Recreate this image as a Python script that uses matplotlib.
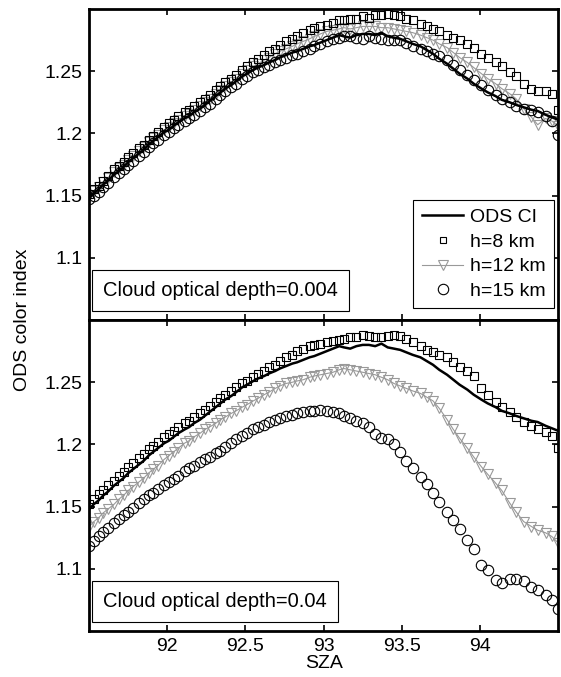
import matplotlib
matplotlib.use("Agg")
import matplotlib.pyplot as plt
from matplotlib.lines import Line2D

plt.rcParams['font.family'] = ['Liberation Sans', 'DejaVu Sans']
plt.rcParams['font.size'] = 14

# SZA sample positions
sza = [91.50, 91.53, 91.56, 91.59, 91.62, 91.66, 91.69, 91.72, 91.75, 91.78,
       91.82, 91.85, 91.88, 91.91, 91.94, 91.98, 92.01, 92.04, 92.07, 92.11,
       92.14, 92.17, 92.21, 92.24, 92.27, 92.31, 92.34, 92.37, 92.41, 92.44,
       92.48, 92.51, 92.55, 92.58, 92.62, 92.65, 92.69, 92.72, 92.76, 92.80,
       92.83, 92.87, 92.91, 92.94, 92.98, 93.02, 93.06, 93.10, 93.13, 93.17,
       93.21, 93.25, 93.29, 93.33, 93.37, 93.41, 93.45, 93.49, 93.53, 93.57,
       93.62, 93.66, 93.70, 93.74, 93.79, 93.83, 93.87, 93.92, 93.96, 94.01,
       94.05, 94.10, 94.14, 94.19, 94.23, 94.28, 94.33, 94.37, 94.42, 94.46,
       94.50]

# measured colour index (same in both panels)
ods_ci = [1.148, 1.152, 1.155, 1.159, 1.162, 1.167, 1.170, 1.173, 1.177, 1.180,
          1.184, 1.187, 1.191, 1.194, 1.197, 1.201, 1.203, 1.206, 1.209, 1.212,
          1.214, 1.217, 1.220, 1.223, 1.226, 1.230, 1.233, 1.236, 1.239, 1.242,
          1.246, 1.248, 1.251, 1.253, 1.255, 1.257, 1.259, 1.261, 1.263, 1.265,
          1.266, 1.268, 1.270, 1.271, 1.273, 1.275, 1.277, 1.279, 1.278, 1.277,
          1.279, 1.280, 1.280, 1.279, 1.281, 1.278, 1.277, 1.276, 1.274, 1.272,
          1.270, 1.267, 1.264, 1.260, 1.256, 1.252, 1.248, 1.244, 1.240, 1.236,
          1.233, 1.230, 1.227, 1.225, 1.223, 1.221, 1.219, 1.218, 1.215, 1.213,
          1.211]

# cloud optical depth 0.004
h8_thin = [1.151, 1.155, 1.158, 1.162, 1.166, 1.171, 1.174, 1.177, 1.181, 1.184,
           1.188, 1.191, 1.195, 1.198, 1.201, 1.205, 1.208, 1.211, 1.214, 1.217,
           1.219, 1.222, 1.225, 1.228, 1.231, 1.235, 1.238, 1.241, 1.244, 1.247,
           1.251, 1.254, 1.257, 1.260, 1.263, 1.266, 1.268, 1.271, 1.274, 1.276,
           1.278, 1.281, 1.283, 1.285, 1.286, 1.287, 1.289, 1.291, 1.291, 1.292,
           1.292, 1.294, 1.293, 1.295, 1.295, 1.296, 1.295, 1.294, 1.292, 1.291,
           1.288, 1.286, 1.284, 1.282, 1.279, 1.277, 1.275, 1.272, 1.269, 1.264,
           1.261, 1.257, 1.254, 1.249, 1.246, 1.240, 1.236, 1.234, 1.234, 1.232,
           1.219]
h12_thin = [1.150, 1.154, 1.157, 1.161, 1.164, 1.169, 1.172, 1.175, 1.179, 1.182,
            1.186, 1.189, 1.193, 1.196, 1.199, 1.203, 1.205, 1.208, 1.211, 1.214,
            1.216, 1.219, 1.222, 1.225, 1.228, 1.232, 1.235, 1.238, 1.241, 1.244,
            1.248, 1.251, 1.254, 1.256, 1.259, 1.261, 1.264, 1.266, 1.268, 1.270,
            1.272, 1.274, 1.276, 1.278, 1.280, 1.282, 1.283, 1.284, 1.285, 1.284,
            1.285, 1.286, 1.286, 1.286, 1.285, 1.285, 1.284, 1.283, 1.282, 1.281,
            1.279, 1.277, 1.275, 1.272, 1.269, 1.265, 1.261, 1.257, 1.253, 1.248,
            1.244, 1.240, 1.236, 1.232, 1.228, 1.220, 1.213, 1.207, 1.212, 1.210,
            1.206]
h15_thin = [1.147, 1.150, 1.153, 1.157, 1.160, 1.165, 1.168, 1.171, 1.175, 1.178,
            1.182, 1.185, 1.189, 1.192, 1.195, 1.199, 1.201, 1.204, 1.207, 1.210,
            1.212, 1.215, 1.218, 1.221, 1.224, 1.228, 1.231, 1.234, 1.237, 1.240,
            1.244, 1.246, 1.249, 1.251, 1.253, 1.255, 1.257, 1.259, 1.261, 1.263,
            1.264, 1.266, 1.268, 1.270, 1.272, 1.274, 1.276, 1.277, 1.278, 1.278,
            1.277, 1.276, 1.278, 1.277, 1.276, 1.275, 1.275, 1.275, 1.273, 1.270,
            1.268, 1.266, 1.264, 1.262, 1.259, 1.255, 1.251, 1.247, 1.243, 1.239,
            1.235, 1.231, 1.228, 1.225, 1.222, 1.220, 1.219, 1.217, 1.214, 1.210,
            1.199]

# cloud optical depth 0.04
h8_thick = [1.152, 1.156, 1.160, 1.163, 1.167, 1.171, 1.175, 1.178, 1.182, 1.185,
            1.189, 1.192, 1.196, 1.199, 1.202, 1.206, 1.208, 1.211, 1.214, 1.217,
            1.219, 1.222, 1.225, 1.228, 1.231, 1.234, 1.237, 1.240, 1.243, 1.246,
            1.249, 1.251, 1.254, 1.257, 1.259, 1.262, 1.264, 1.267, 1.270, 1.272,
            1.275, 1.277, 1.279, 1.280, 1.281, 1.282, 1.283, 1.284, 1.285, 1.286,
            1.286, 1.288, 1.287, 1.286, 1.286, 1.287, 1.288, 1.287, 1.285, 1.282,
            1.279, 1.276, 1.274, 1.272, 1.270, 1.266, 1.262, 1.259, 1.255, 1.245,
            1.240, 1.234, 1.230, 1.226, 1.222, 1.218, 1.215, 1.212, 1.210, 1.207,
            1.197]
h12_thick = [1.134, 1.138, 1.141, 1.145, 1.148, 1.152, 1.156, 1.159, 1.163, 1.166,
             1.170, 1.173, 1.177, 1.180, 1.183, 1.188, 1.191, 1.194, 1.197, 1.201,
             1.203, 1.206, 1.209, 1.212, 1.214, 1.217, 1.220, 1.222, 1.225, 1.227,
             1.230, 1.232, 1.235, 1.237, 1.240, 1.242, 1.245, 1.247, 1.249, 1.250,
             1.251, 1.252, 1.254, 1.255, 1.256, 1.257, 1.258, 1.260, 1.261, 1.260,
             1.259, 1.258, 1.257, 1.256, 1.254, 1.252, 1.249, 1.247, 1.245, 1.243,
             1.241, 1.238, 1.235, 1.229, 1.220, 1.212, 1.205, 1.197, 1.190, 1.182,
             1.176, 1.169, 1.163, 1.153, 1.146, 1.138, 1.134, 1.131, 1.129, 1.126,
             1.121]
h15_thick = [1.118, 1.122, 1.126, 1.130, 1.133, 1.137, 1.140, 1.143, 1.146, 1.149,
             1.153, 1.156, 1.159, 1.161, 1.164, 1.167, 1.170, 1.172, 1.175, 1.179,
             1.181, 1.183, 1.186, 1.188, 1.190, 1.193, 1.195, 1.198, 1.201, 1.204,
             1.207, 1.209, 1.212, 1.214, 1.216, 1.218, 1.220, 1.221, 1.223, 1.224,
             1.225, 1.226, 1.227, 1.227, 1.228, 1.227, 1.226, 1.225, 1.223, 1.221,
             1.219, 1.217, 1.214, 1.208, 1.205, 1.204, 1.200, 1.194, 1.187, 1.181,
             1.174, 1.168, 1.161, 1.154, 1.146, 1.139, 1.132, 1.123, 1.116, 1.103,
             1.099, 1.091, 1.089, 1.092, 1.092, 1.090, 1.085, 1.083, 1.079, 1.075,
             1.068]

panels = [
    (h8_thin, h12_thin, h15_thin, 'Cloud optical depth=0.004'),
    (h8_thick, h12_thick, h15_thick, 'Cloud optical depth=0.04'),
]

gray = '#999999'
fig = plt.figure(figsize=(5.61, 6.77), dpi=100)
ax_top = fig.add_axes([0.159, 0.5273, 0.8357, 0.4594])
ax_bot = fig.add_axes([0.159, 0.0679, 0.8357, 0.4594])

for ax, (h8, h12, h15, label) in zip([ax_top, ax_bot], panels):
    ax.plot(sza, h12, color=gray, lw=0.8, marker='v', ms=7.5,
            mfc='none', mec=gray, mew=0.8, zorder=2)
    ax.plot(sza, h8, ls='none', marker='s', ms=5.5, mfc='none',
            mec='black', mew=0.8, zorder=3)
    ax.plot(sza, h15, ls='none', marker='o', ms=7.5, mfc='none',
            mec='black', mew=0.8, zorder=3)
    ax.plot(sza, ods_ci, color='black', lw=1.8, zorder=4)

    ax.set_xlim(91.5, 94.5)
    ax.set_ylim(1.05, 1.30)
    ax.set_xticks([92, 92.5, 93, 93.5, 94])
    ax.set_xticklabels(['92', '92.5', '93', '93.5', '94'])
    ax.set_yticks([1.1, 1.15, 1.2, 1.25])
    ax.set_yticklabels(['1.1', '1.15', '1.2', '1.25'])
    ax.tick_params(direction='in', length=4, width=1.2, top=True, right=True,
                   labelsize=14, pad=5)
    for sp in ax.spines.values():
        sp.set_linewidth(2.0)
    ax.text(0.029, 0.095, label, transform=ax.transAxes, fontsize=14.5,
            va='center', ha='left', zorder=6,
            bbox=dict(boxstyle='square,pad=0.55', fc='white', ec='black', lw=0.8))

ax_top.tick_params(labelbottom=False)
ax_bot.set_xlabel('SZA', fontsize=14, labelpad=0)
fig.text(0.04, 0.527, 'ODS color index', rotation=90, va='center', ha='center',
         fontsize=14)

handles = [
    Line2D([], [], color='black', lw=1.8),
    Line2D([], [], ls='none', marker='s', ms=4.5, mfc='none', mec='black', mew=0.8),
    Line2D([], [], color=gray, lw=0.8, marker='v', ms=7.5, mfc='none', mec=gray, mew=0.8),
    Line2D([], [], ls='none', marker='o', ms=7.5, mfc='none', mec='black', mew=0.8),
]
leg = ax_top.legend(handles, ['ODS CI', 'h=8 km', 'h=12 km', 'h=15 km'],
                    loc='lower right', bbox_to_anchor=(0.9915, 0.038),
                    borderaxespad=0, fontsize=14, fancybox=False,
                    framealpha=1, edgecolor='black', handlelength=2.15,
                    handletextpad=0.35, labelspacing=0.36, borderpad=0.42)
leg.get_frame().set_linewidth(0.8)
leg.set_zorder(7)

fig.savefig('out.png', dpi=100)
